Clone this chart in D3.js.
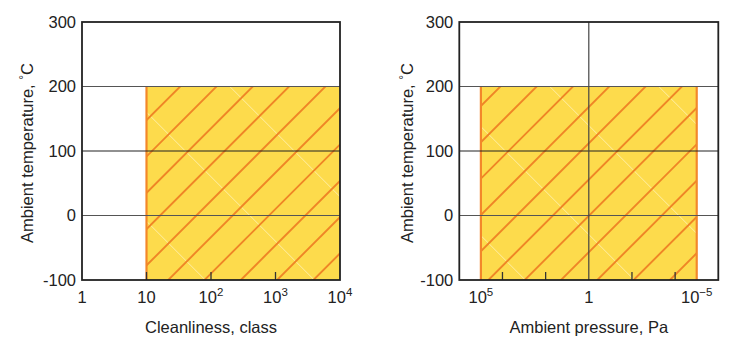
<!DOCTYPE html>
<html><head><meta charset="utf-8">
<script src="https://cdn.jsdelivr.net/npm/d3@7"></script>
<style>
html,body{margin:0;padding:0;background:#fff;}
text{font-family:"Liberation Sans",Arial,Helvetica,sans-serif;fill:#222;}
</style></head>
<body><svg id="chart" width="731" height="349"></svg>
<script>
// ---- data ----
const tempDomain = [-100, 300];
const tempTicks = [-100, 0, 100, 200, 300];
const tempGrid = [0, 100, 200];
const operatingTemp = [-100, 200];

const cleanDomain = [1, 10000];
const cleanTicks = [1, 10, 100, 1000, 10000];
const cleanTickBase = ["1", "10", "10", "10", "10"];
const cleanTickExp = ["", "", "2", "3", "4"];
const cleanMinorTicks = [10, 100, 1000];
const cleanRange = [10, 10000];

const pressureDomain = [1e6, 1e-6];
const pressureTicks = [1e5, 1, 1e-5];
const pressureTickBase = ["10", "1", "10"];
const pressureTickExp = ["5", "", "\u22125"];
const pressureMinorTicks = [1e4, 1e2, 1e-2, 1e-4];
const pressureGridX = [1];
const pressureRange = [1e5, 1e-5];

const panels = [
  {left: 82, right: 340, xDomain: cleanDomain, ticks: cleanTicks, base: cleanTickBase, exp: cleanTickExp,
   minor: cleanMinorTicks, gridX: [], range: cleanRange, edges: [cleanRange[0]],
   xTitle: "Cleanliness, class", yTitleX: 33, orangePhase: 266.7, whitePhase: 143.3},
  {left: 459.3, right: 718.3, xDomain: pressureDomain, ticks: pressureTicks, base: pressureTickBase, exp: pressureTickExp,
   minor: pressureMinorTicks, gridX: pressureGridX, range: pressureRange, edges: pressureRange,
   xTitle: "Ambient pressure, Pa", yTitleX: 412.5, orangePhase: 804.7, whitePhase: 463.3}
];

const svg = d3.select("#chart");
const plotTop = 22, plotBottom = 280;
const y = d3.scaleLinear().domain(tempDomain).range([plotBottom, plotTop]);

panels.forEach((p, i) => {
  const x = d3.scaleLog().domain(p.xDomain).range([p.left, p.right]);
  const g = svg.append("g");
  const x0 = x(p.range[0]), x1 = x(p.range[1]);
  const y0 = y(operatingTemp[1]), y1 = y(operatingTemp[0]);
  const clipId = "clip" + i;
  svg.append("clipPath").attr("id", clipId).append("rect")
    .attr("x", x0).attr("y", y0).attr("width", x1 - x0).attr("height", y1 - y0);

  // operating region
  g.append("rect").attr("x", x0).attr("y", y0).attr("width", x1 - x0).attr("height", y1 - y0)
    .attr("fill", "#FDDB4C");

  const hatch = g.append("g").attr("clip-path", `url(#${clipId})`);
  // faint white lines (down-right)
  const ws = 109;
  for (let c = p.whitePhase - ws * 6; c < p.whitePhase + ws * 6; c += ws) {
    hatch.append("line").attr("x1", c + y0 - 5).attr("y1", y0 - 5).attr("x2", c + y1 + 5).attr("y2", y1 + 5)
      .attr("stroke", "#FFF1B0").attr("stroke-width", 0.9);
  }
  // orange hatch lines (up-right)
  const os = 36.3;
  for (let c = p.orangePhase - os * 20; c < p.orangePhase + os * 20; c += os) {
    hatch.append("line").attr("x1", c - y1 - 5).attr("y1", y1 + 5).attr("x2", c - y0 + 5).attr("y2", y0 - 5)
      .attr("stroke", "#EF8526").attr("stroke-width", 1.9);
  }
  // orange edges
  p.edges.forEach(v => {
    g.append("line").attr("x1", x(v)).attr("x2", x(v)).attr("y1", y0).attr("y2", y1)
      .attr("stroke", "#F3872A").attr("stroke-width", 2.2);
  });

  // gridlines
  tempGrid.forEach(t => {
    g.append("line").attr("x1", p.left).attr("x2", p.right).attr("y1", y(t)).attr("y2", y(t))
      .attr("stroke", t === 100 ? "#222" : "#555").attr("stroke-width", 1.2);
  });
  p.gridX.forEach(v => {
    g.append("line").attr("x1", x(v)).attr("x2", x(v)).attr("y1", plotTop).attr("y2", plotBottom)
      .attr("stroke", "#444").attr("stroke-width", 1.2);
  });

  // minor ticks (inside)
  p.minor.forEach(v => {
    g.append("line").attr("x1", x(v)).attr("x2", x(v)).attr("y1", plotBottom).attr("y2", plotBottom - 8)
      .attr("stroke", "#333").attr("stroke-width", 1.3);
  });

  // frame
  g.append("rect").attr("x", p.left).attr("y", plotTop).attr("width", p.right - p.left).attr("height", plotBottom - plotTop)
    .attr("fill", "none").attr("stroke", "#222").attr("stroke-width", 1.8);

  // y tick labels
  tempTicks.forEach(t => {
    g.append("text").attr("x", p.left - 6).attr("y", y(t)).attr("dy", "0.36em")
      .attr("text-anchor", "end").attr("font-size", 16.5).text(t);
  });

  // x tick labels
  p.ticks.forEach((v, k) => {
    const t = g.append("text").attr("x", x(v)).attr("y", 303).attr("text-anchor", "middle").attr("font-size", 16.5);
    t.append("tspan").text(p.base[k]);
    if (p.exp[k]) t.append("tspan").attr("dy", -7).attr("font-size", 11.5).text(p.exp[k]);
  });

  // axis titles
  g.append("text").attr("x", (p.left + p.right) / 2).attr("y", 333).attr("text-anchor", "middle")
    .attr("font-size", 16.5).text(p.xTitle);
  const yt = g.append("text").attr("transform", `translate(${p.yTitleX},${(plotTop + plotBottom) / 2 + 2}) rotate(-90)`)
    .attr("text-anchor", "middle").attr("font-size", 16.5);
  yt.append("tspan").text("Ambient temperature, ");
  yt.append("tspan").attr("font-size", 12).attr("dy", -5).text("\u00B0");
  yt.append("tspan").attr("dy", 5).text("C");
});
</script></body></html>
